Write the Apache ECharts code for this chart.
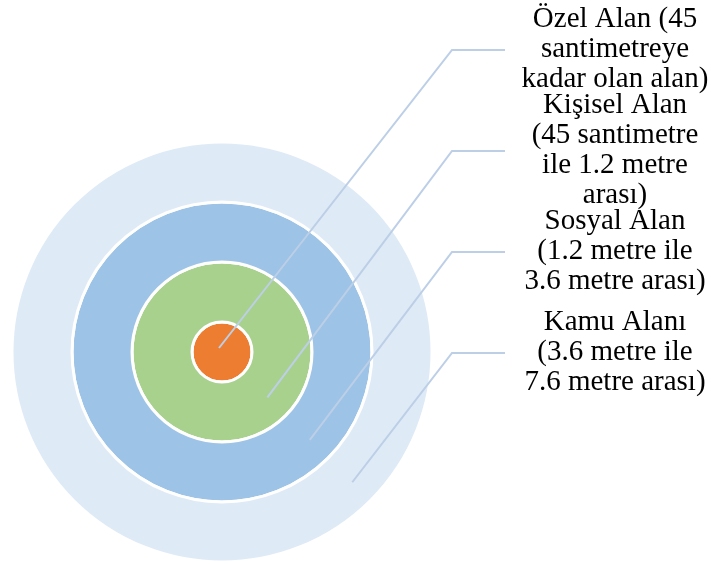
<!DOCTYPE html>
<html>
<head>
<meta charset="utf-8">
<script src="https://cdn.jsdelivr.net/npm/echarts@6/dist/echarts.min.js"></script>
<style>
  html, body { margin: 0; padding: 0; background: #fff; }
  #chart { width: 711px; height: 565px; }
</style>
</head>
<body>
<div id="chart"></div>
<script>
// Zones, from the innermost circle outwards
const zoneNames = ['Özel Alan', 'Kişisel Alan', 'Sosyal Alan', 'Kamu Alanı'];
const zoneLabels = [
  ['Özel Alan (45', 'santimetreye', 'kadar olan alan)'],
  ['Kişisel Alan', '(45 santimetre', 'ile 1.2 metre', 'arası)'],
  ['Sosyal Alan', '(1.2 metre ile', '3.6 metre arası)'],
  ['Kamu Alanı', '(3.6 metre ile', '7.6 metre arası)']
];
// Schematic outer radius of each circle (diagram levels)
const zoneRadius = [0.5, 1.5, 2.5, 3.5];
const zoneColors = ['#ed7d31', '#a9d18e', '#9dc3e6', '#deeaf6'];

const chart = echarts.init(document.getElementById('chart'), null, { renderer: 'canvas' });

const CENTER = [222, 352];
const RADIUS = 210;

// Rings are stacked: each ring spans from the previous circle's radius to its own
const series = zoneRadius.map(function (r, i) {
  return {
    type: 'bar',
    name: zoneNames[i],
    coordinateSystem: 'polar',
    stack: 'zones',
    data: [r - (i === 0 ? 0 : zoneRadius[i - 1])],
    barWidth: '100%',
    silent: true,
    itemStyle: { color: zoneColors[i], borderColor: '#ffffff', borderWidth: 3 }
  };
});

chart.setOption({
  animation: false,
  backgroundColor: '#ffffff',
  polar: { center: CENTER, radius: [0, RADIUS] },
  angleAxis: { type: 'category', data: [''], startAngle: 90, show: false },
  radiusAxis: { type: 'value', min: 0, max: 3.5, show: false },
  series: series
});

// Leader lines and labels
const radiusAxis = chart.getModel().getComponent('radiusAxis').axis;
const LABEL_TOP = 50, LABEL_STEP = 101, BEND_X = 452, END_X = 505, TEXT_X = 615;
const dir = Math.PI / 4;
const graphics = [];
zoneRadius.forEach(function (r, i) {
  const anchorVal = i === 0 ? 0 : (zoneRadius[i - 1] + r) / 2 + 0.07;
  const rp = radiusAxis.dataToCoord(anchorVal);
  const sx = CENTER[0] + rp * Math.cos(dir) - (i === 0 ? 3 : 0);
  const sy = CENTER[1] + rp * Math.sin(dir) - (i === 0 ? 4 : 0);
  const ly = LABEL_TOP + LABEL_STEP * i;
  graphics.push({
    type: 'polyline',
    silent: true,
    z: 10,
    shape: { points: [[sx, sy], [BEND_X, ly], [END_X, ly]] },
    style: { stroke: '#bccfe7', lineWidth: 2, fill: null }
  });
  graphics.push({
    type: 'text',
    silent: true,
    z: 10,
    x: TEXT_X,
    y: ly - 1,
    style: {
      text: zoneLabels[i].join('\n'),
      font: '29px "Liberation Serif", "Times New Roman", serif',
      fill: '#000000',
      align: 'center',
      verticalAlign: 'middle',
      lineHeight: 30
    }
  });
});
chart.setOption({ graphic: graphics });
</script>
</body>
</html>
